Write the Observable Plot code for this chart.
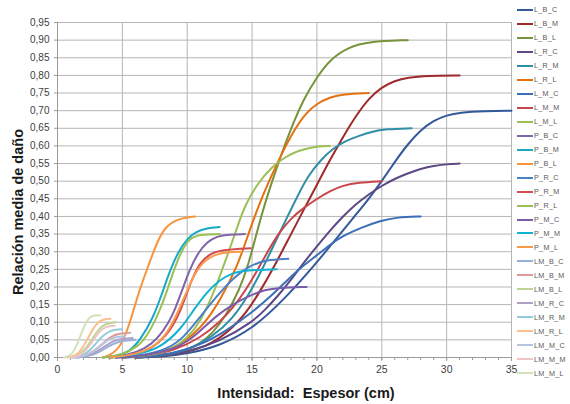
<!DOCTYPE html>
<html>
<head>
<meta charset="utf-8">
<script src="https://cdn.jsdelivr.net/npm/d3@7"></script>
<script src="https://cdn.jsdelivr.net/npm/@observablehq/plot@0.6"></script>
<style>
  html, body { margin: 0; padding: 0; background: #fff; }
  #wrap { position: relative; width: 570px; height: 404px; font-family: "Liberation Sans", Arial, sans-serif; overflow: hidden; }
  #chart { position: absolute; left: 0; top: 0; }
  #legend { position: absolute; left: 517px; top: 3px; }
  .row { height: 13.97px; display: flex; align-items: center; }
  .sw { width: 16px; height: 2px; margin-right: 1px; }
  .lab { font-size: 7.2px; color: #595959; letter-spacing: 0.3px; }
  .xt { position: absolute; left: 306px; top: 386px; transform: translateX(-50%); font-weight: bold; font-size: 14.5px; line-height: 14.5px; color: #1a1a1a; white-space: nowrap; }
  .yt { position: absolute; left: 18px; top: 212px; transform: translate(-50%, -50%) rotate(-90deg); font-weight: bold; font-size: 14.5px; line-height: 14.5px; color: #1a1a1a; white-space: nowrap; }
</style>
</head>
<body>
<div id="wrap">
  <div id="chart"></div>
  <div id="legend"></div>
  <div class="yt">Relación media de daño</div>
  <div class="xt">Intensidad:&nbsp; Espesor (cm)</div>
</div>
<script>
// ---- tick values ----
const xTicks = [0, 5, 10, 15, 20, 25, 30, 35];
const yTicks = [0, 0.05, 0.10, 0.15, 0.20, 0.25, 0.30, 0.35, 0.40, 0.45, 0.50, 0.55, 0.60, 0.65, 0.70, 0.75, 0.80, 0.85, 0.90, 0.95];

// ---- series names (legend order) ----
const names = ["L_B_C","L_B_M","L_B_L","L_R_C","L_R_M","L_R_L","L_M_C","L_M_M","L_M_L",
               "P_B_C","P_B_M","P_B_L","P_R_C","P_R_M","P_R_L","P_M_C","P_M_M","P_M_L",
               "LM_B_C","LM_B_M","LM_B_L","LM_R_C","LM_R_M","LM_R_L","LM_M_C","LM_M_M","LM_M_L"];

const colors = ["#34599a","#a0292c","#77933c","#5b4884","#2f8fa5","#e4720f","#3a6fb8","#c9454a","#9bbf55",
                "#8064a8","#1aa8c6","#f7943c","#4a80c4","#d24a52","#98c055","#7a5ca8","#12b2d2","#f89a48",
                "#93b1d9","#dc9a9a","#bcd596","#b0a0c8","#92cbdc","#f9bf90","#b6c4e0","#efc3c3","#d2e2b8"];

// ---- series values [intensity (cm), damage ratio] ----
const L_B_C = [[6,0],[8,0.002],[10,0.01],[12.5,0.033],[15,0.08],[17.5,0.165],[20,0.27],[21,0.315],[22,0.36],[23,0.405],[24,0.45],[25,0.5],[26,0.555],[27,0.605],[28,0.645],[29,0.672],[30,0.687],[31,0.695],[33,0.699],[35,0.7]];
const L_B_M = [[6,0],[8,0.004],[10,0.015],[11.5,0.033],[12.5,0.055],[13.5,0.085],[14.5,0.125],[15.5,0.18],[16.6,0.25],[18,0.35],[19,0.42],[20,0.49],[21,0.56],[22,0.625],[23,0.685],[24,0.735],[25,0.767],[26,0.785],[27,0.794],[28.5,0.799],[31,0.8]];
const L_B_L = [[6,0],[8,0.004],[10,0.02],[11,0.04],[12,0.07],[13,0.12],[14,0.19],[14.7,0.26],[15.4,0.36],[16.05,0.445],[17,0.55],[18,0.65],[19,0.735],[20,0.795],[21,0.845],[22.4,0.88],[24,0.896],[27,0.9]];
const L_R_C = [[6,0],[8,0.004],[10,0.015],[12.5,0.045],[15,0.1],[16,0.135],[17,0.175],[18,0.22],[19,0.27],[20,0.315],[21,0.36],[22,0.4],[23,0.435],[24,0.463],[25,0.487],[26,0.507],[27,0.522],[28,0.535],[29,0.544],[30,0.548],[31,0.55]];
const L_R_M = [[5,0],[8,0.004],[10,0.02],[12,0.06],[13.5,0.11],[14.7,0.175],[15.8,0.25],[17.2,0.36],[18.4,0.45],[19.3,0.515],[20.3,0.56],[21.2,0.592],[22.2,0.614],[23.2,0.628],[24.2,0.64],[25.3,0.648],[27.3,0.65]];
const L_R_L = [[5,0],[7,0.005],[9,0.025],[10.5,0.065],[11.5,0.105],[12.5,0.16],[13.9,0.26],[14.7,0.35],[15.8,0.46],[17,0.557],[18.3,0.65],[19.2,0.695],[20,0.72],[21,0.738],[22,0.747],[24,0.75]];
const L_M_C = [[5,0],[7,0.003],[9,0.012],[11,0.035],[13,0.075],[15,0.128],[16.5,0.175],[18,0.23],[19,0.262],[20,0.29],[21,0.32],[22,0.345],[23.4,0.368],[24.9,0.388],[26.2,0.398],[28,0.4]];
const L_M_M = [[4.5,0],[7,0.005],[9,0.02],[11,0.055],[12.5,0.1],[13.5,0.14],[14.5,0.19],[15.3,0.24],[16.2,0.3],[17,0.35],[18,0.395],[19,0.425],[20,0.45],[21,0.472],[22,0.488],[23.2,0.496],[25,0.5]];
const L_M_L = [[4,0],[6,0.002],[8,0.012],[9,0.028],[10,0.055],[11,0.1],[12,0.18],[12.6,0.24],[13.3,0.31],[13.9,0.375],[14.5,0.435],[15.4,0.492],[16.5,0.54],[17.5,0.568],[18.6,0.587],[19.6,0.597],[21,0.6]];
const P_B_C = [[4,0],[5.5,0.008],[6.7,0.024],[7.7,0.052],[8.6,0.1],[9.1,0.14],[9.6,0.19],[10.2,0.25],[10.8,0.295],[11.5,0.327],[12.3,0.344],[13.2,0.349],[14.45,0.35]];
const P_B_M = [[3.5,0],[4.5,0.004],[5.5,0.015],[6.4,0.05],[7.4,0.115],[8,0.175],[8.6,0.24],[9.3,0.3],[10,0.337],[10.7,0.357],[11.5,0.367],[12.5,0.37]];
const P_B_L = [[3.5,0],[4.3,0.01],[5,0.04],[5.6,0.1],[6.3,0.19],[6.9,0.25],[7.7,0.33],[8.3,0.37],[9.2,0.393],[10.6,0.4]];
const P_R_C = [[4.5,0],[7,0.008],[8.5,0.025],[9.7,0.055],[11,0.115],[12.3,0.175],[13.6,0.228],[14.9,0.262],[16.1,0.277],[17.8,0.28]];
const P_R_M = [[4,0],[6,0.008],[7.2,0.024],[8.4,0.06],[9.3,0.115],[9.9,0.175],[10.4,0.225],[11,0.27],[11.8,0.296],[12.8,0.306],[14.9,0.31]];
const P_R_L = [[3.5,0],[5,0.008],[6.2,0.03],[7,0.065],[8,0.14],[8.8,0.23],[9.5,0.3],[10.2,0.34],[11,0.349],[12.5,0.35]];
const P_M_C = [[4.5,0],[7,0.005],[9,0.025],[10,0.045],[11,0.075],[12.3,0.12],[13.6,0.153],[14.9,0.177],[16,0.192],[17,0.198],[19.2,0.2]];
const P_M_M = [[4,0],[6.5,0.01],[8,0.03],[9.5,0.08],[10.5,0.135],[11.5,0.185],[12.5,0.22],[13.5,0.24],[14.5,0.248],[16.9,0.25]];
const P_M_L = [[4,0],[6,0.008],[7.5,0.03],[8.5,0.07],[9.3,0.13],[10,0.19],[10.6,0.24],[11.3,0.275],[12.2,0.293],[13.2,0.299],[14.2,0.3]];
const LM_B_C = [[1.5,0],[2.6,0.005],[3.3,0.017],[3.9,0.031],[4.5,0.042],[5.1,0.048],[6,0.05]];
const LM_B_M = [[1.3,0],[2.2,0.005],[2.8,0.018],[3.4,0.036],[3.9,0.053],[4.4,0.064],[4.9,0.069],[5.6,0.07]];
const LM_B_L = [[1,0],[1.6,0.005],[2.05,0.02],[2.5,0.042],[2.9,0.065],[3.3,0.085],[3.7,0.096],[4.5,0.1]];
const LM_R_C = [[1.5,0],[2.5,0.006],[3.1,0.018],[3.7,0.033],[4.2,0.045],[4.8,0.053],[5.8,0.055]];
const LM_R_M = [[1.2,0],[2,0.006],[2.5,0.02],[3,0.042],[3.5,0.062],[4,0.075],[4.5,0.079],[5,0.08]];
const LM_R_L = [[0.8,0],[1.4,0.005],[1.8,0.02],[2.3,0.05],[2.7,0.08],[3.1,0.1],[3.5,0.108],[4.1,0.11]];
const LM_M_C = [[1.2,0],[2.2,0.005],[2.8,0.017],[3.3,0.033],[3.8,0.048],[4.3,0.057],[5.2,0.06]];
const LM_M_M = [[1,0],[1.7,0.005],[2.2,0.02],[2.7,0.045],[3.1,0.068],[3.5,0.083],[3.9,0.089],[4.4,0.09]];
const LM_M_L = [[0.5,0],[1,0.005],[1.3,0.02],[1.6,0.045],[1.9,0.075],[2.2,0.1],[2.5,0.115],[2.8,0.12],[3.3,0.12]];

const seriesValues = [L_B_C,L_B_M,L_B_L,L_R_C,L_R_M,L_R_L,L_M_C,L_M_M,L_M_L,
                      P_B_C,P_B_M,P_B_L,P_R_C,P_R_M,P_R_L,P_M_C,P_M_M,P_M_L,
                      LM_B_C,LM_B_M,LM_B_L,LM_R_C,LM_R_M,LM_R_L,LM_M_C,LM_M_M,LM_M_L];

const rows = seriesValues.flatMap((pts, i) => pts.map(([x, y]) => ({series: names[i], x, y})));
const xMinor = d3.range(0, 36, 1);
const fmtY = d => d.toFixed(2).replace(".", ",");

const chart = Plot.plot({
  width: 530,
  height: 404,
  marginLeft: 57,
  marginRight: 19,
  marginTop: 22,
  marginBottom: 47,
  style: {fontFamily: "Liberation Sans, Arial, sans-serif", background: "transparent", color: "#404040"},
  x: {domain: [0, 35]},
  y: {domain: [0, 0.95]},
  color: {domain: names, range: colors},
  marks: [
    Plot.gridY(yTicks, {stroke: "#b5b5b5", strokeOpacity: 1, strokeWidth: 1}),
    Plot.gridX(xTicks, {stroke: "#b5b5b5", strokeOpacity: 1, strokeWidth: 1}),
    Plot.ruleX([0], {stroke: "#9a9a9a"}),
    Plot.ruleY([0], {stroke: "#9a9a9a"}),
    Plot.axisY(yTicks, {tickFormat: fmtY, tickSize: 3, tickPadding: 5, fontSize: 10, stroke: "#9a9a9a", fill: "#404040", label: null}),
    Plot.axisX(xTicks, {tickSize: 4, tickPadding: 4, fontSize: 10.5, stroke: "#9a9a9a", fill: "#404040", label: null}),
    Plot.axisX(xMinor, {tickSize: 3, text: null, stroke: "#9a9a9a", label: null}),
    Plot.line(rows, {x: "x", y: "y", z: "series", stroke: "series", strokeWidth: 2, curve: "basis"})
  ]
});
document.getElementById("chart").appendChild(chart);

const legend = document.getElementById("legend");
names.forEach((n, i) => {
  const row = document.createElement("div");
  row.className = "row";
  row.innerHTML = `<div class="sw" style="background:${colors[i]}"></div><div class="lab">${n}</div>`;
  legend.appendChild(row);
});
</script>
</body>
</html>
